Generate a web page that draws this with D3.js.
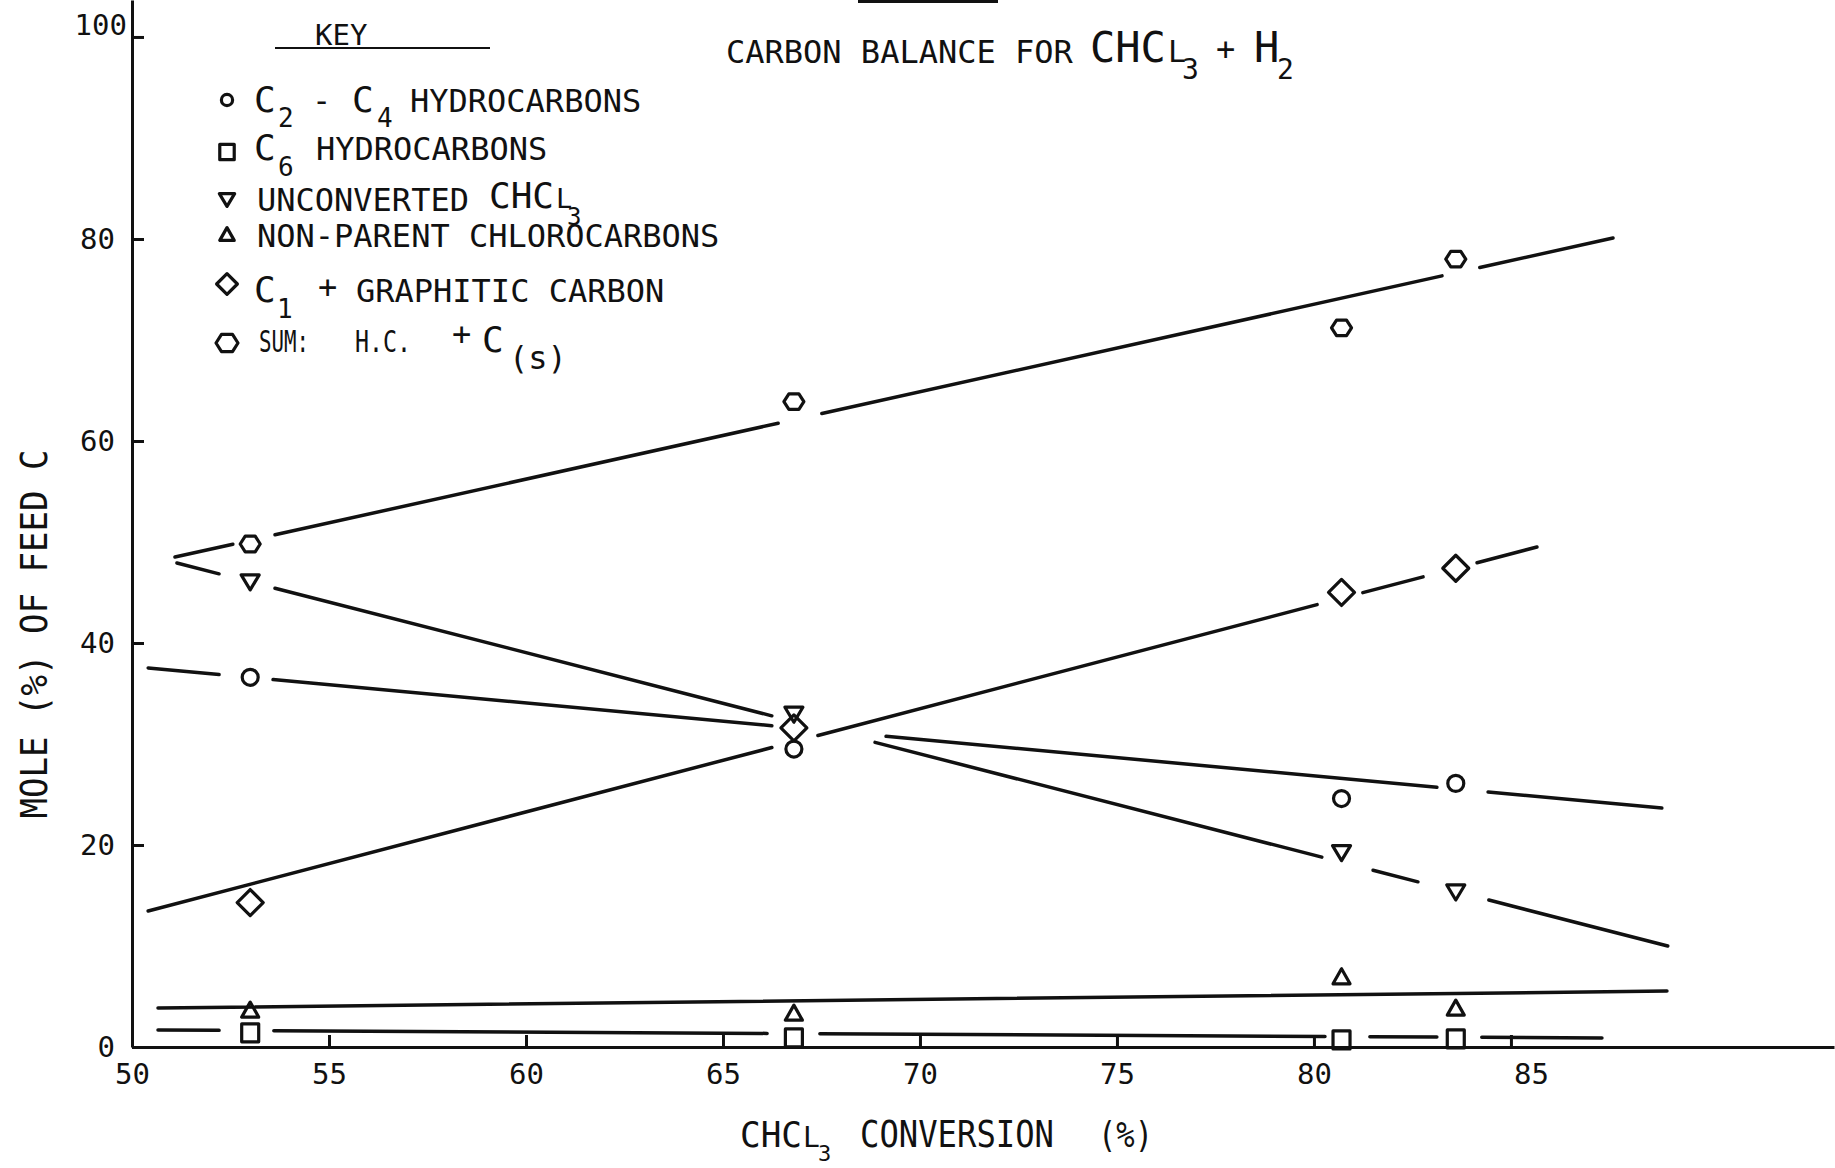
<!DOCTYPE html>
<meta charset="utf-8">
<style>
body { margin: 0; background: #fff; }
svg { display: block; background: #fff; }
.type { font-family: "DejaVu Sans Mono", monospace; fill: #111; }
.axis path, .axis line { stroke: #111; stroke-width: 3; }
.axis text { font-family: "DejaVu Sans Mono", monospace; font-size: 29px; fill: #111; }
.fit { fill: none; stroke: #111; stroke-width: 3.5; stroke-linecap: round; }
.mark { fill: none; stroke: #111; stroke-width: 3.2; stroke-linejoin: round; }
</style>
<body>
<svg id="chart" width="1835" height="1168"></svg>
<script src="https://cdn.jsdelivr.net/npm/d3@7"></script>
<script>

// values (mole % of feed carbon vs CHCl3 conversion %)
var conversion   = [53.0, 66.8, 80.7, 83.6];
var c2c4         = [36.6, 29.5, 24.6, 26.1];
var c6           = [1.4, 0.9, 0.7, 0.8];
var unconverted  = [46.0, 32.9, 19.2, 15.3];
var nonParent    = [3.7, 3.4, 7.0, 3.9];
var c1Graphitic  = [14.3, 31.6, 45.0, 47.4];
var sumHC        = [49.8, 63.9, 71.2, 78.0];

var xTicks = [50, 55, 60, 65, 70, 75, 80, 85];
var yTicks = [0, 20, 40, 60, 80, 100];

// hand drawn fit lines: end points and the gaps left round the symbols (data units)
var fitC2C4   = { from: [50.41, 37.52], to: [88.83, 23.66], gaps: [[52.21, 53.58], [66.24, 69.14], [83.12, 84.42]] };
var fitC6     = { from: [50.66, 1.68],  to: [87.31, 0.89],  gaps: [[52.21, 53.60], [66.12, 67.46], [80.28, 81.42], [83.12, 84.26]] };
var fitUnconv = { from: [51.14, 47.92], to: [88.98, 10.0],  gaps: [[52.21, 53.63], [66.24, 68.86], [80.20, 81.50], [82.64, 84.44]] };
var fitNonPar = { from: [50.66, 3.86],  to: [88.96, 5.54],  gaps: [] };
var fitC1     = { from: [50.41, 13.47], to: [85.66, 49.50], gaps: [[66.24, 67.41], [80.08, 81.24], [82.77, 84.14]] };
var fitSum    = { from: [51.09, 48.51], to: [87.59, 80.10], gaps: [[52.56, 53.63], [66.40, 67.51], [83.25, 84.21]] };

var series = [
  { values: c2c4,        shape: "circle",  fit: fitC2C4 },
  { values: c6,          shape: "square",  fit: fitC6 },
  { values: unconverted, shape: "triDown", fit: fitUnconv },
  { values: nonParent,   shape: "triUp",   fit: fitNonPar },
  { values: c1Graphitic, shape: "diamond", fit: fitC1 },
  { values: sumHC,       shape: "hexagon", fit: fitSum }
];

var svg = d3.select("#chart");

var x = d3.scaleLinear().domain([50, 93.2]).range([132, 1834]);
var y = d3.scaleLinear().domain([0, 103.66]).range([1047, 0]);

function shapePath(kind, k) {
  k = k || 1;
  if (kind == "circle") {
    var r = 8 * k;
    return "M" + (-r) + ",0A" + r + "," + r + " 0 1,0 " + r + ",0A" + r + "," + r + " 0 1,0 " + (-r) + ",0Z";
  }
  if (kind == "square") {
    var w = 8.5 * k, h = 9 * k;
    return "M" + (-w) + "," + (-h) + "H" + w + "V" + h + "H" + (-w) + "Z";
  }
  if (kind == "triDown") {
    var w = 9 * k, h = 7.5 * k;
    return "M" + (-w) + "," + (-h) + "H" + w + "L0," + h + "Z";
  }
  if (kind == "triUp") {
    var w = 8.5 * k, h = 7.5 * k;
    return "M" + (-w) + "," + h + "H" + w + "L0," + (-h) + "Z";
  }
  if (kind == "diamond") {
    var r = 13 * k;
    return "M0," + (-r) + "L" + r + ",0L0," + r + "L" + (-r) + ",0Z";
  }
  // hexagon, points left and right
  var r = 10 * k, pts = [];
  for (var i = 0; i < 6; i++) {
    var a = Math.PI / 3 * i;
    pts.push([r * Math.cos(a), r * 0.9 * Math.sin(a)]);
  }
  return "M" + pts.join("L") + "Z";
}

// axes
var xAxis = svg.append("g")
    .attr("class", "axis")
    .attr("transform", "translate(0," + y(0) + ")")
    .call(d3.axisBottom(x).tickValues(xTicks).tickSize(-12).tickSizeOuter(0).tickPadding(16));

var yAxis = svg.append("g")
    .attr("class", "axis")
    .attr("transform", "translate(" + x(50) + ",0)")
    .call(d3.axisLeft(y).tickValues(yTicks).tickSize(-12).tickSizeOuter(0).tickPadding(17));

// the typed labels on the original sit a little off their ticks
yAxis.selectAll(".tick text").filter(function(d) { return d == 100; })
    .attr("x", -5).attr("dy", "-0.1em");
xAxis.selectAll(".tick text").filter(function(d) { return d == 85; })
    .attr("x", 20);

// fit lines, broken where they pass the symbols
var line = d3.line().x(function(d) { return x(d[0]); }).y(function(d) { return y(d[1]); });

series.forEach(function(s) {
  var f = s.fit;
  var slope = (f.to[1] - f.from[1]) / (f.to[0] - f.from[0]);
  var at = function(v) { return f.from[1] + slope * (v - f.from[0]); };
  var cuts = [f.from[0]];
  f.gaps.forEach(function(g) { cuts.push(g[0], g[1]); });
  cuts.push(f.to[0]);
  for (var i = 0; i < cuts.length; i += 2) {
    svg.append("path")
        .attr("class", "fit")
        .attr("d", line([[cuts[i], at(cuts[i])], [cuts[i + 1], at(cuts[i + 1])]]));
  }
});

// symbols
series.forEach(function(s) {
  svg.append("g").selectAll("path")
      .data(s.values)
    .enter().append("path")
      .attr("class", "mark")
      .attr("transform", function(d, i) { return "translate(" + x(conversion[i]) + "," + y(d) + ")"; })
      .attr("d", shapePath(s.shape));
});

// text helper
function put(str, px, py, size, len) {
  var t = svg.append("text")
      .attr("class", "type")
      .attr("x", px)
      .attr("y", py)
      .style("font-size", size + "px")
      .text(str);
  if (len) t.attr("textLength", len).attr("lengthAdjust", "spacingAndGlyphs");
  return t;
}

// title
put("CARBON BALANCE FOR", 726, 63, 32);
put("CHC", 1090, 62, 42);
put("L", 1168, 62, 30);
put("3", 1182, 79, 28);
put("+", 1216, 60, 32);
put("H", 1254, 62, 42);
put("2", 1277, 79, 28);
svg.append("line").attr("x1", 858).attr("x2", 998).attr("y1", 1.5).attr("y2", 1.5)
    .attr("stroke", "#111").attr("stroke-width", 3);

// key
put("KEY", 315, 45, 29);
svg.append("line").attr("x1", 275).attr("x2", 490).attr("y1", 48).attr("y2", 48)
    .attr("stroke", "#111").attr("stroke-width", 2);

var keyShapes = ["circle", "square", "triDown", "triUp", "diamond", "hexagon"];
var keyY = [100, 152, 200, 234, 284, 343];
svg.append("g").selectAll("path")
    .data(keyShapes)
  .enter().append("path")
    .attr("class", "mark")
    .attr("stroke-width", 3.6)
    .attr("transform", function(d, i) { return "translate(227," + keyY[i] + ")"; })
    .attr("d", function(d) { return shapePath(d, d == "diamond" ? 0.8 : d == "hexagon" ? 1.1 : d == "circle" ? 0.7 : 0.85); });

// row 1
put("C", 254, 112, 36);
put("2", 278, 127, 26);
put("-", 312, 112, 32);
put("C", 352, 112, 36);
put("4", 377, 127, 26);
put("HYDROCARBONS", 410, 112, 32);
// row 2
put("C", 254, 160, 36);
put("6", 278, 176, 26);
put("HYDROCARBONS", 316, 160, 32);
// row 3
put("UNCONVERTED", 257, 211, 32);
put("CHC", 489, 208, 36);
put("L", 556, 208, 27);
put("3", 567, 225, 24);
// row 4
put("NON-PARENT CHLOROCARBONS", 257, 247, 32);
// row 5
put("C", 254, 302, 36);
put("1", 277, 318, 26);
put("+", 318, 298, 32);
put("GRAPHITIC CARBON", 356, 302, 32);
// row 6
put("SUM:", 259, 352, 30, 50);
put("H.C.", 355, 352, 30, 56);
put("+", 452, 345, 32);
put("C", 482, 352, 36);
put("(s)", 509, 369, 32);

// axis titles
put("CHC", 740, 1147, 36, 62);
put("L", 803, 1147, 28);
put("3", 818, 1161, 22);
put("CONVERSION", 860, 1147, 38, 194);
put("(%)", 1098, 1147, 36, 55);

svg.append("text")
    .attr("class", "type")
    .attr("text-anchor", "middle")
    .attr("transform", "translate(47,634) rotate(-90)")
    .style("font-size", "38px")
    .attr("textLength", 369)
    .attr("lengthAdjust", "spacingAndGlyphs")
    .text("MOLE (%) OF FEED C");

</script>
</body>
